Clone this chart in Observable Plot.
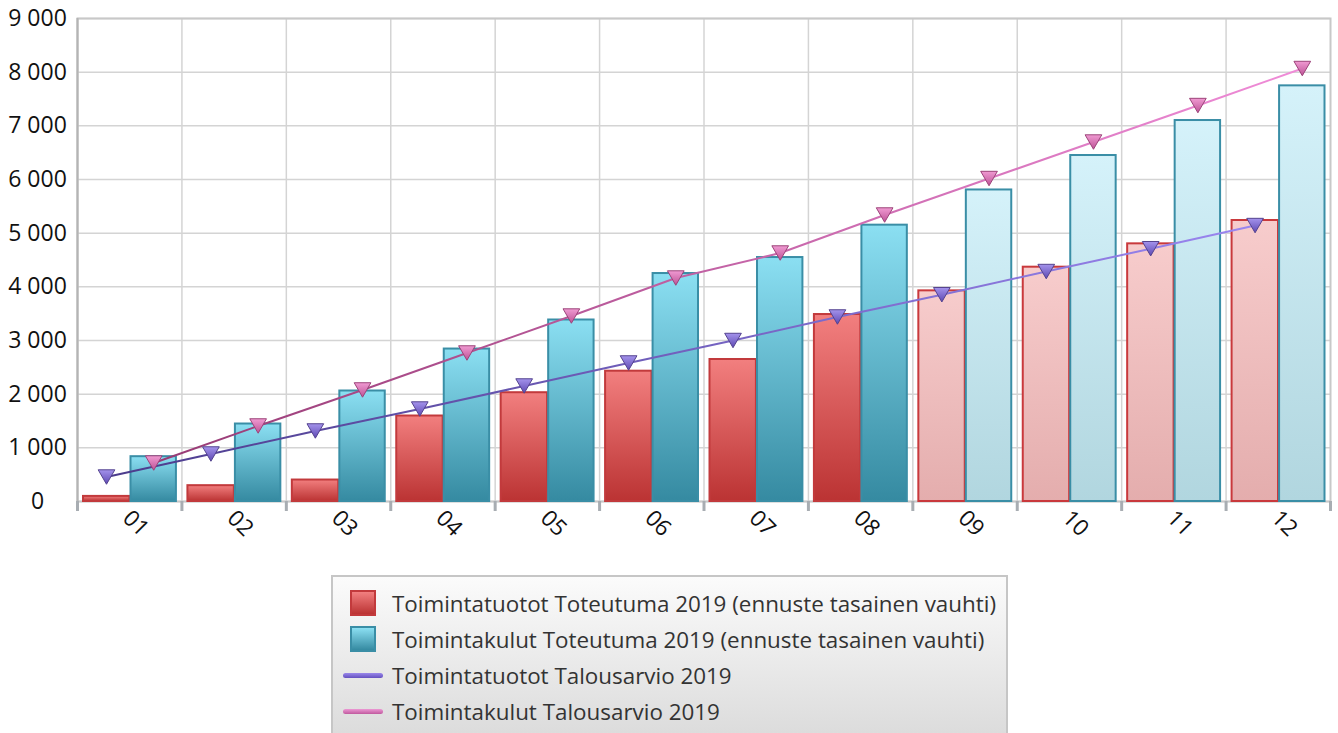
<!DOCTYPE html>
<html>
<head>
<meta charset="utf-8">
<script src="https://cdn.jsdelivr.net/npm/d3@7"></script>
<script src="https://cdn.jsdelivr.net/npm/@observablehq/plot@0.6"></script>
<style>
  html, body { margin: 0; padding: 0; background: #ffffff; }
  body { font-family: "Open Sans", sans-serif; width: 1338px; height: 733px; overflow: hidden; position: relative; }
  #chart svg { display: block; }
  #legend {
    position: absolute; left: 331px; top: 575px; width: 677px; height: 175px;
    box-sizing: border-box; border: 2px solid #c6c6c6;
    background: linear-gradient(#fbfbfb, #d9d9d9);
    padding-top: 8px;
  }
  .row { height: 36px; display: flex; align-items: center; font-size: 22.4px; color: #333; }
  .sw { width: 40px; margin-left: 10px; margin-right: 9px; display: flex; justify-content: center; align-items: center; }
  .box { width: 22px; height: 22px; border: 2px solid; }
  .ln { width: 40px; height: 5px; border-radius: 3px; }
</style>
</head>
<body>
<div id="chart"></div>
<div id="legend"></div>
<script>
// ---- data ----
const months = ["01","02","03","04","05","06","07","08","09","10","11","12"];
const tuototToteutuma = [95, 295, 400, 1593, 2027, 2428, 2646, 3484, 3925, 4366, 4801, 5236];
const kulutToteutuma  = [835, 1444, 2059, 2841, 3382, 4248, 4546, 5149, 5805, 6447, 7099, 7745];
const tuototTalousarvio = [456, 885, 1314, 1723, 2152, 2581, 3000, 3438, 3853, 4285, 4710, 5142];
const kulutTalousarvio  = [717, 1407, 2078, 2767, 3456, 4164, 4630, 5338, 6018, 6698, 7378, 8068];
const ennuste = [false,false,false,false,false,false,false,false,true,true,true,true];
const yTicks = [0,1000,2000,3000,4000,5000,6000,7000,8000,9000];
const seriesNames = [
  "Toimintatuotot Toteutuma 2019 (ennuste tasainen vauhti)",
  "Toimintakulut Toteutuma 2019 (ennuste tasainen vauhti)",
  "Toimintatuotot Talousarvio 2019",
  "Toimintakulut Talousarvio 2019"
];

const rows = months.map((m, i) => ({
  month: m,
  tuotot: tuototToteutuma[i],
  kulut: kulutToteutuma[i],
  tuototBud: tuototTalousarvio[i],
  kulutBud: kulutTalousarvio[i],
  forecast: ennuste[i]
}));
const actual = rows.filter(d => !d.forecast);
const fcast = rows.filter(d => d.forecast);

const fmt = d3.formatLocale({decimal: ",", thousands: " ", grouping: [3], currency: ["", "€"]}).format(",");

const triDown = {
  draw(context, size) {
    const s = Math.sqrt(size * 4 / Math.sqrt(3));
    const h = s * Math.sqrt(3) / 2;
    context.moveTo(-s / 2, -h / 2);
    context.lineTo(s / 2, -h / 2);
    context.lineTo(0, h / 2);
    context.closePath();
  }
};

function defs() {
  const g = d3.create("svg:g");
  const d = g.append("defs");
  const vgrad = (id, top, bottom) => {
    const lg = d.append("linearGradient").attr("id", id).attr("x1", 0).attr("y1", 0).attr("x2", 0).attr("y2", 1);
    lg.append("stop").attr("offset", "0%").attr("stop-color", top);
    lg.append("stop").attr("offset", "100%").attr("stop-color", bottom);
  };
  const hgrad = (id, left, right) => {
    const lg = d.append("linearGradient").attr("id", id).attr("x1", 0).attr("y1", 0).attr("x2", 1).attr("y2", 0);
    lg.append("stop").attr("offset", "0%").attr("stop-color", left);
    lg.append("stop").attr("offset", "100%").attr("stop-color", right);
  };
  vgrad("redG", "#f27f7f", "#bb3333");
  vgrad("cyanG", "#8bdff2", "#358aa1");
  vgrad("redP", "#f7cccc", "#e4adad");
  vgrad("cyanP", "#d5f2fa", "#b1d6df");
  vgrad("purpT", "#a493ec", "#5d48b2");
  vgrad("pinkT", "#f09ad2", "#bd5296");
  hgrad("purpL", "#4b3b8c", "#9a86f0");
  hgrad("pinkL", "#973a74", "#f08cd8");
  return g.node();
}

const half = (1330 - 77) / 12 / 2;

const chart = Plot.plot({
  width: 1338,
  height: 575,
  marginLeft: 77,
  marginRight: 8,
  marginTop: 18,
  marginBottom: 74,
  style: { fontFamily: "Open Sans, sans-serif", background: "transparent", color: "#111" },
  x: { domain: months, padding: 0, round: false, axis: null, label: null },
  y: { domain: [0, 9000], axis: null, label: null },
  marks: [
    defs,
    Plot.gridY({ ticks: yTicks, stroke: "#d4d4d4", strokeOpacity: 1, strokeWidth: 1.5 }),
    Plot.gridX({ ticks: months, dx: -half, stroke: "#d4d4d4", strokeOpacity: 1, strokeWidth: 1.5 }),
    Plot.frame({ stroke: "#c8c8c8", strokeWidth: 2 }),
    Plot.ruleX([months[0]], { dx: -half, stroke: "#b4b4b4", strokeWidth: 2 }),
    Plot.barY(actual, { x: "month", y: "tuotot", fill: "url(#redG)", stroke: "#c23a3c", strokeWidth: 2, insetLeft: 6, insetRight: 52 }),
    Plot.barY(actual, { x: "month", y: "kulut", fill: "url(#cyanG)", stroke: "#3a8ea6", strokeWidth: 2, insetLeft: 53.5, insetRight: 5.5 }),
    Plot.barY(fcast, { x: "month", y: "tuotot", fill: "url(#redP)", stroke: "#c9393c", strokeWidth: 2, insetLeft: 6, insetRight: 52 }),
    Plot.barY(fcast, { x: "month", y: "kulut", fill: "url(#cyanP)", stroke: "#3a8ea6", strokeWidth: 2, insetLeft: 53.5, insetRight: 5.5 }),
    Plot.line(rows, { x: "month", y: "tuototBud", dx: -23.2, stroke: "url(#purpL)", strokeWidth: 2 }),
    Plot.line(rows, { x: "month", y: "kulutBud", dx: 24, stroke: "url(#pinkL)", strokeWidth: 2 }),
    Plot.dot(rows, { x: "month", y: "tuototBud", dx: -23.2, symbol: triDown, r: 6.2, fill: "url(#purpT)", stroke: "#54438f", strokeWidth: 1 }),
    Plot.dot(rows, { x: "month", y: "kulutBud", dx: 24, symbol: triDown, r: 6.2, fill: "url(#pinkT)", stroke: "#9c4379", strokeWidth: 1 }),
    Plot.axisY({ ticks: yTicks, tickSize: 0, tickPadding: 0, textAnchor: "middle", dx: -40, tickFormat: fmt, fontSize: 23, fill: "#111", label: null }),
    Plot.axisX({ ticks: months, tickSize: 10, tickFormat: () => "", dx: -half, stroke: "#a8adb2", strokeWidth: 3, label: null }),
    Plot.axisX({ ticks: [months[11]], tickSize: 10, tickFormat: () => "", dx: half, stroke: "#a8adb2", strokeWidth: 3, label: null }),
    Plot.text(months, { x: d => d, frameAnchor: "bottom", dy: 27, dx: 1, rotate: 45, fontSize: 22.5, fill: "#111" })
  ]
});
document.getElementById("chart").appendChild(chart);

// ---- legend ----
const legendSwatches = [
  '<div class="box" style="border-color:#c23a3c;background:linear-gradient(#f27f7f,#bb3333)"></div>',
  '<div class="box" style="border-color:#3a8ea6;background:linear-gradient(#8bdff2,#358aa1)"></div>',
  '<div class="ln" style="background:linear-gradient(#9a88ea,#6450c0)"></div>',
  '<div class="ln" style="background:linear-gradient(#ec98d4,#c05a9e)"></div>'
];
const legend = document.getElementById("legend");
seriesNames.forEach((name, i) => {
  const r = document.createElement("div");
  r.className = "row";
  r.innerHTML = '<div class="sw">' + legendSwatches[i] + '</div><span></span>';
  r.querySelector("span").textContent = name;
  legend.appendChild(r);
});
</script>
</body>
</html>
